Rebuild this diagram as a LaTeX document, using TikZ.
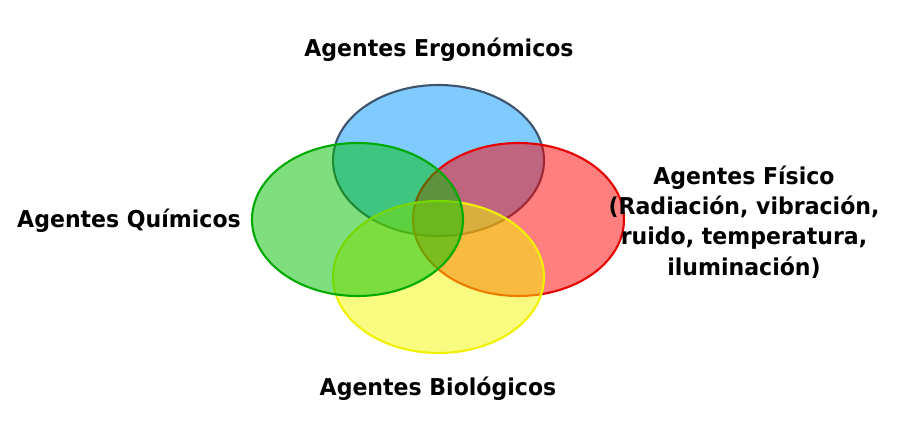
\documentclass[tikz,border=0pt]{standalone}
\usepackage{fontspec}
\setmainfont{DejaVu Sans}[FakeStretch=0.95]
\usetikzlibrary{positioning}

\tikzset{
  agente/.style={font=\bfseries\fontsize{6.6}{8.6}\selectfont, align=center, inner sep=0pt},
  circulo/.style={line width=0.6pt, fill opacity=0.5}
}

\begin{document}
\begin{tikzpicture}
  \useasboundingbox (0,0) rectangle (9.03,4.39);

  % Elipses
  \draw[circulo, draw={rgb,255:red,62;green,84;blue,108}, fill={rgb,255:red,0;green,150;blue,255}] (4.385,2.785) ellipse (1.055 and 0.755);
  \draw[circulo, draw={rgb,255:red,230;green,0;blue,0}, fill={rgb,255:red,255;green,0;blue,0}] (5.185,2.195) ellipse (1.055 and 0.765);
  \draw[circulo, draw={rgb,255:red,240;green,240;blue,0}, fill={rgb,255:red,242;green,248;blue,0}] (4.385,1.62) ellipse (1.055 and 0.76);
  \draw[circulo, draw={rgb,255:red,0;green,170;blue,0}, fill={rgb,255:red,0;green,192;blue,0}] (3.575,2.195) ellipse (1.055 and 0.765);

  % Etiquetas
  \node[agente] (ergo) at (4.39,3.89) {Agentes Ergonómicos};
  \node[agente] (quim) at (1.29,2.18) {Agentes Químicos};
  \node[agente] (bio) at (4.38,0.50) {Agentes Biológicos};
  \node[agente] (fis) at (7.44,2.17) {Agentes Físico\\(Radiación, vibración,\\ruido, temperatura,\\iluminación)};

\end{tikzpicture}
\end{document}
